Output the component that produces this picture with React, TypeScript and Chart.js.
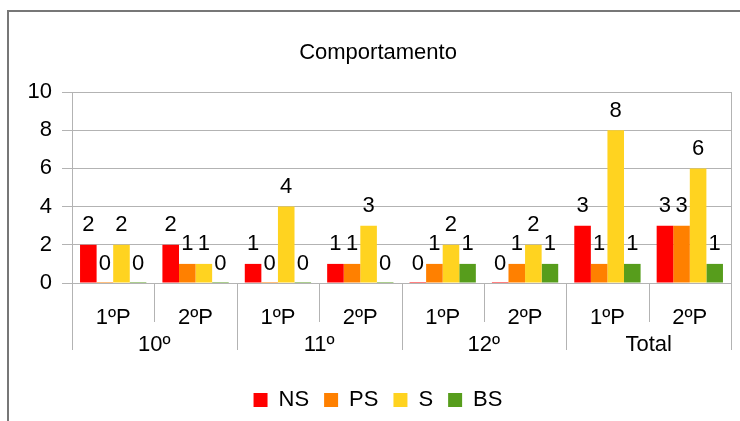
import React, { useEffect, useRef } from "react";
import { Chart, registerables } from "chart.js";

Chart.register(...registerables);

const subLabels = ["1ºP", "2ºP", "1ºP", "2ºP", "1ºP", "2ºP", "1ºP", "2ºP"];
const groupLabels = ["10º", "11º", "12º", "Total"];
const seriesNames = ["NS", "PS", "S", "BS"];
const nsValues = [2, 2, 1, 1, 0, 0, 3, 3];
const psValues = [0, 1, 0, 1, 1, 1, 1, 3];
const sValues = [2, 1, 4, 3, 2, 2, 8, 6];
const bsValues = [0, 0, 0, 0, 1, 1, 1, 1];
const seriesColors = ["#ff0000", "#ff8000", "#ffd320", "#579d1c"];
const yTicks = [0, 2, 4, 6, 8, 10];
const titleText = "Comportamento";

const FONT = "'Liberation Sans', Arial, sans-serif";
const GRID = "#b3b3b3";

export default function App() {
  const ref = useRef<HTMLCanvasElement | null>(null);

  useEffect(() => {
    const canvas = ref.current;
    if (!canvas) return;

    const framePlugin = {
      id: "frame",
      beforeDraw(chart: any) {
        const ctx = chart.ctx;
        ctx.save();
        ctx.fillStyle = "#ffffff";
        ctx.fillRect(0, 0, chart.width, chart.height);
        ctx.strokeStyle = "#777777";
        ctx.lineWidth = 2;
        ctx.beginPath();
        ctx.moveTo(8, chart.height + 5);
        ctx.lineTo(8, 11);
        ctx.lineTo(chart.width + 5, 11);
        ctx.stroke();
        ctx.restore();
      },
    };

    const axisPlugin = {
      id: "xaxisCustom",
      afterDatasetsDraw(chart: any) {
        const ctx = chart.ctx;
        const xs = chart.scales.x;
        const ys = chart.scales.y;
        const area = chart.chartArea;
        const n = subLabels.length;
        const w = (area.right - area.left) / n;
        const base = ys.getPixelForValue(0);
        ctx.save();
        ctx.strokeStyle = GRID;
        ctx.lineWidth = 1;
        for (let i = 0; i <= n; i++) {
          const x = Math.round(xs.getPixelForValue(0) - w / 2 + i * w) + 0.5;
          let y0 = base;
          let y1 = base + 39;
          if (i % 2 === 0) y1 = base + 67;
          if (i === n) y0 = area.top;
          ctx.beginPath();
          ctx.moveTo(x, y0);
          ctx.lineTo(x, y1);
          ctx.stroke();
        }
        ctx.fillStyle = "#000";
        ctx.font = `22px ${FONT}`;
        ctx.textAlign = "center";
        ctx.textBaseline = "alphabetic";
        subLabels.forEach((lab, i) => {
          ctx.fillText(lab, xs.getPixelForValue(i), base + 41);
        });
        groupLabels.forEach((lab, g) => {
          const cx = (xs.getPixelForValue(2 * g) + xs.getPixelForValue(2 * g + 1)) / 2;
          ctx.fillText(lab, cx, base + 68);
        });
        // data labels
        chart.data.datasets.forEach((ds: any, di: number) => {
          const meta = chart.getDatasetMeta(di);
          meta.data.forEach((el: any, i: number) => {
            const v = ds.data[i];
            const top = ys.getPixelForValue(v);
            ctx.fillText(String(v), el.x, top - 13.5);
          });
        });
        ctx.restore();
      },
    };

    const chart = new Chart(canvas, {
      type: "bar",
      data: {
        labels: subLabels,
        datasets: [nsValues, psValues, sValues, bsValues].map((d, i) => ({
          label: seriesNames[i],
          data: d,
          backgroundColor: seriesColors[i],
          borderWidth: 0,
          minBarLength: 1,
          categoryPercentage: 0.805,
          barPercentage: 1,
        })),
      },
      options: {
        responsive: false,
        animation: false,
        layout: { padding: { left: 25, right: 9, top: 0, bottom: 0 } },
        plugins: {
          title: {
            display: true,
            text: titleText,
            color: "#000",
            font: { family: FONT, size: 22, weight: "normal" },
            padding: { top: 40, bottom: 25.6 },
          },
          legend: {
            position: "bottom",
            labels: {
              boxWidth: 14,
              boxHeight: 14,
              padding: 15,
              color: "#000",
              font: { family: FONT, size: 22 },
            },
          },
          tooltip: { enabled: false },
        },
        scales: {
          x: {
            grid: { display: false },
            border: { display: false },
            ticks: { display: false },
            afterFit: (scale: any) => {
              scale.height = 91;
            },
          },
          y: {
            min: 0,
            max: 10,
            afterBuildTicks: (scale: any) => {
              scale.ticks = yTicks.map((v) => ({ value: v }));
            },
            grid: { color: GRID, tickLength: 10, tickColor: GRID },
            border: { color: GRID },
            ticks: {
              color: "#000",
              padding: 10,
              font: { family: FONT, size: 22 },
            },
            afterFit: (scale: any) => {
              scale.width = 47;
            },
          },
        },
      },
      plugins: [framePlugin, axisPlugin],
    });

    return () => chart.destroy();
  }, []);

  return (
    <div style={{ position: "fixed", left: 0, top: 0, width: 740, height: 421 }}>
      <canvas ref={ref} width={740} height={421} style={{ display: "block" }} />
    </div>
  );
}
